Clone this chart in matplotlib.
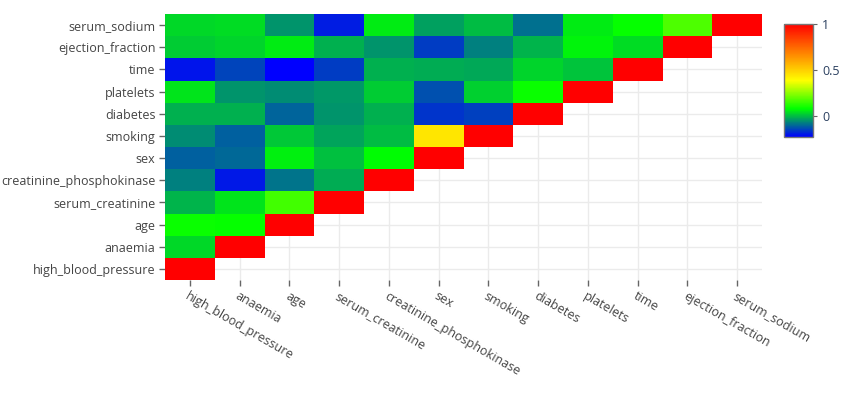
import numpy as np
import matplotlib
matplotlib.use("Agg")
import matplotlib.pyplot as plt
from matplotlib.colors import LinearSegmentedColormap

plt.rcParams['font.family'] = ['Open Sans', 'DejaVu Sans']

labels = ['high_blood_pressure', 'anaemia', 'age', 'serum_creatinine',
          'creatinine_phosphokinase', 'sex', 'smoking', 'diabetes',
          'platelets', 'time', 'ejection_fraction', 'serum_sodium']

# lower triangle, one row per label (bottom to top), diagonal included
r_hbp = [1.0]
r_anaemia = [0.038, 1.0]
r_age = [0.093, 0.088, 1.0]
r_sc = [-0.005, 0.052, 0.159, 1.0]
r_cpk = [-0.071, -0.191, -0.082, -0.016, 1.0]
r_sex = [-0.105, -0.095, 0.065, 0.007, 0.080, 1.0]
r_smoking = [-0.056, -0.107, 0.019, -0.027, 0.002, 0.446, 1.0]
r_diabetes = [-0.013, -0.013, -0.101, -0.047, -0.010, -0.158, -0.147, 1.0]
r_platelets = [0.050, -0.044, -0.052, -0.041, 0.024, -0.125, 0.028, 0.092, 1.0]
r_time = [-0.196, -0.141, -0.224, -0.149, -0.009, -0.016, -0.023, 0.034, 0.011, 1.0]
r_ef = [0.024, 0.032, 0.060, -0.011, -0.044, -0.148, -0.067, -0.005, 0.072, 0.042, 1.0]
r_ss = [0.037, 0.042, -0.046, -0.189, 0.060, -0.028, 0.005, -0.090, 0.062, 0.088, 0.176, 1.0]

rows = [r_hbp, r_anaemia, r_age, r_sc, r_cpk, r_sex, r_smoking,
        r_diabetes, r_platelets, r_time, r_ef, r_ss]

n = len(labels)
z = np.full((n, n), np.nan)
for i, r in enumerate(rows):
    z[i, :len(r)] = r
z = np.ma.masked_invalid(z)

cmap = LinearSegmentedColormap.from_list(
    'bgyr', [(0, '#0000ff'), (0.25, '#00ff00'), (0.5, '#ffff00'), (1, '#ff0000')])

fig = plt.figure(figsize=(8.66, 3.96), dpi=100)
ax = fig.add_axes([165/866, 116/396, 597/866, 266/396])

txt = '#444444'
ax.set_axisbelow(True)
ax.grid(True, color='#ebebeb', lw=1)
mesh = ax.pcolormesh(np.arange(n + 1) - 0.5, np.arange(n + 1) - 0.5, z,
                     cmap=cmap, vmin=z.min(), vmax=1, zorder=2)
ax.set_xlim(-0.5, n - 0.5)
ax.set_ylim(-0.5, n - 0.5)
for s in ax.spines.values():
    s.set_visible(False)

ax.set_xticks(range(n))
ax.set_yticks(range(n))
ax.set_xticklabels(labels, rotation=-30, ha='left', va='top',
                   rotation_mode='anchor', fontsize=9, color=txt)
ax.set_yticklabels(labels, fontsize=9, color=txt)
ax.tick_params(axis='both', length=4, width=1, color='#666666', pad=3)

cax = fig.add_axes([784/866, 259/396, 29/866, 113/396])
cb = fig.colorbar(mesh, cax=cax, ticks=[0, 0.5, 1])
cb.ax.set_yticklabels(['0', '0.5', '1'], fontsize=9, color='#2a3f5f')
cb.outline.set_edgecolor('#777777')
cb.outline.set_linewidth(1)
cb.ax.tick_params(length=3, color='#666666')

fig.savefig('out.png', dpi=100)
